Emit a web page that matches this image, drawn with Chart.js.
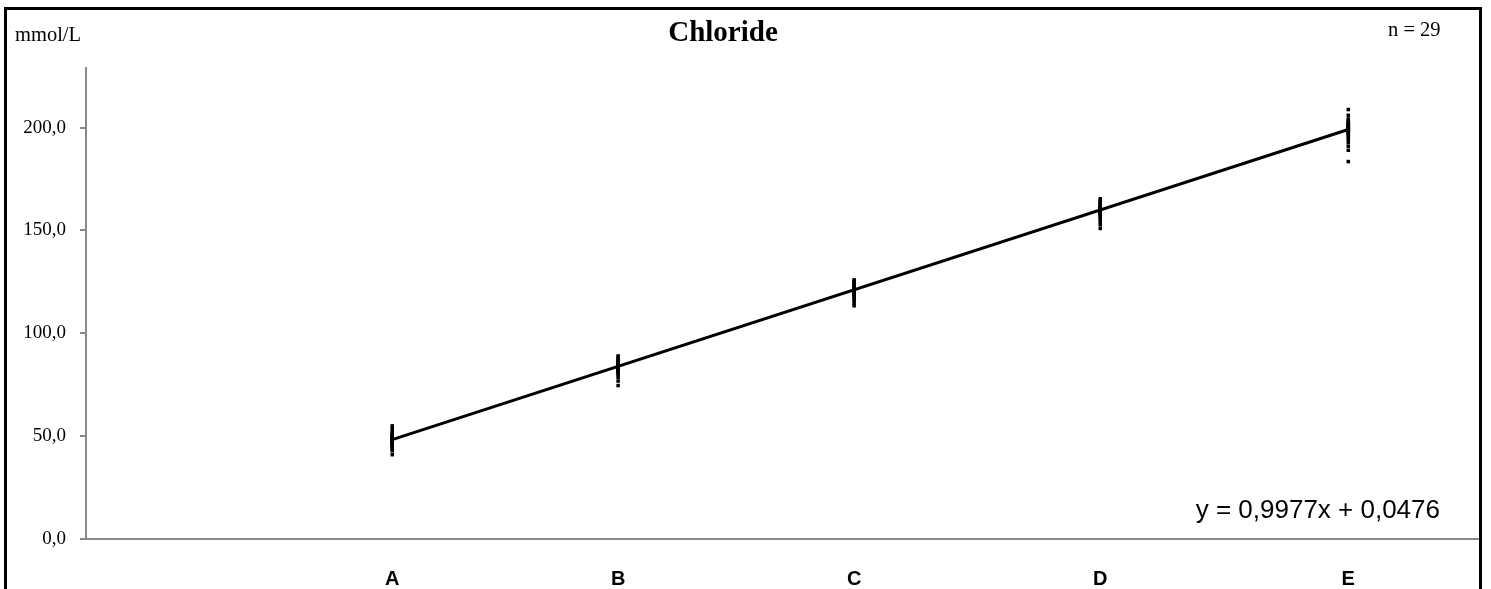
<!DOCTYPE html>
<html>
<head>
<meta charset="utf-8">
<script src="https://cdn.jsdelivr.net/npm/chart.js@4.4.1/dist/chart.umd.min.js"></script>
<style>
  html, body { margin: 0; padding: 0; background: #fff; overflow: hidden; }
  #wrap { position: relative; width: 1491px; height: 589px; }
  #frame { position: absolute; left: 4px; top: 7px; width: 1478px; height: 640px; box-sizing: border-box; border: 3px solid #000; pointer-events: none; }
  .txt { position: absolute; white-space: nowrap; color: #000; }
  #title { left: 0; width: 1446px; top: 15px; text-align: center; font: bold 29px "Liberation Serif", serif; }
  #unit { left: 15px; top: 23px; font: 20.5px "Liberation Serif", serif; }
  #count { left: 1388px; top: 18px; font: 20.5px "Liberation Serif", serif; }
  #eq { right: 51px; top: 494px; font: 26px "Liberation Sans", Arial, sans-serif; }
</style>
</head>
<body>
<div id="wrap">
  <canvas id="chart" width="1491" height="589"></canvas>
  <div id="frame"></div>
  <div class="txt" id="title">Chloride</div>
  <div class="txt" id="unit">mmol/L</div>
  <div class="txt" id="count">n = 29</div>
  <div class="txt" id="eq">y = 0,9977x + 0,0476</div>
</div>
<script>
// niveaux (échantillons) et leur valeur cible sur l'axe X
const levels = ['A', 'B', 'C', 'D', 'E'];
const levelX = [48.4, 84.1, 121.4, 160.3, 199.5];

// 29 résultats par niveau
const valsA = [55.0, 53.8, 52.6, 51.5, 50.8, 50.2, 49.8, 49.4, 49.0, 48.7, 48.4, 48.1, 47.8, 47.5, 47.2, 46.9, 46.6, 46.2, 45.8, 45.3, 44.6, 43.8, 42.9, 41.0, 49.6, 48.9, 48.2, 47.6, 50.4];
const valsB = [89.0, 88.3, 87.6, 87.0, 86.5, 86.0, 85.6, 85.2, 84.8, 84.5, 84.2, 83.9, 83.6, 83.3, 83.0, 82.7, 82.4, 82.0, 81.6, 81.2, 80.7, 79.9, 78.6, 76.8, 74.6, 84.0, 85.0, 83.5, 82.8];
const valsC = [126.0, 125.3, 124.7, 124.1, 123.6, 123.2, 122.8, 122.4, 122.1, 121.8, 121.5, 121.2, 120.9, 120.6, 120.3, 120.0, 119.7, 119.3, 118.9, 118.4, 117.8, 117.0, 115.9, 114.6, 113.4, 121.0, 122.0, 120.5, 121.6];
const valsD = [165.4, 164.6, 163.9, 163.3, 162.8, 162.3, 161.9, 161.5, 161.1, 160.8, 160.5, 160.2, 159.9, 159.6, 159.3, 159.0, 158.6, 158.2, 157.7, 157.1, 156.4, 155.4, 154.2, 152.8, 151.0, 160.0, 161.0, 159.5, 160.6];
const valsE = [208.8, 206.0, 204.2, 203.3, 202.6, 202.0, 201.5, 201.0, 200.6, 200.2, 199.8, 199.4, 199.0, 198.6, 198.2, 197.7, 197.1, 196.4, 195.5, 194.3, 192.8, 191.0, 189.0, 183.5, 200.0, 201.2, 199.6, 202.3, 198.9];

// droite de régression affichée
const slope = 0.9977;
const intercept = 0.0476;

const yTicks = [0, 50, 100, 150, 200];

(function () {
  const allVals = [valsA, valsB, valsC, valsD, valsE];
  const points = [];
  allVals.forEach((vals, i) => vals.forEach((v) => points.push({ x: levelX[i], y: v })));

  const x0 = levelX[0], x1 = levelX[levelX.length - 1];
  const trend = [{ x: x0, y: slope * x0 + intercept }, { x: x1, y: slope * x1 + intercept }];

  const axisGrey = '#898989';

  new Chart(document.getElementById('chart'), {
    type: 'scatter',
    data: {
      datasets: [
        { data: trend, showLine: true, borderColor: '#000', borderWidth: 3, pointRadius: 0, order: 0 },
        { data: points, pointStyle: 'rect', pointRadius: 2.5, backgroundColor: '#000', borderWidth: 0, order: 1 },
      ],
    },
    options: {
      responsive: false, animation: false,
      layout: { padding: { top: 68, right: 13, left: 0, bottom: 0 } },
      plugins: { legend: { display: false }, tooltip: { enabled: false } },
      scales: {
        x: {
          type: 'linear', min: 0, max: 220,
          afterFit: (s) => { s.height = 50; },
          afterBuildTicks: (s) => { s.ticks = levelX.map((v) => ({ value: v })); },
          grid: { display: false, drawTicks: false },
          border: { color: axisGrey, width: 2 },
          ticks: {
            padding: 28, color: '#000', maxRotation: 0, autoSkip: false,
            font: { family: '"Liberation Sans", Arial, sans-serif', size: 20, weight: 'bold' },
            callback: (v, i) => levels[i],
          },
        },
        y: {
          min: 0, max: 229,
          afterFit: (s) => { s.width = 86; },
          afterBuildTicks: (s) => { s.ticks = yTicks.map((v) => ({ value: v })); },
          grid: { drawOnChartArea: false, drawTicks: true, tickLength: 6, color: axisGrey, lineWidth: 2 },
          border: { color: axisGrey, width: 2 },
          ticks: {
            padding: 14, color: '#000',
            font: { family: '"Liberation Serif", "Times New Roman", serif', size: 19 },
            callback: (v) => v.toFixed(1).replace('.', ','),
          },
        },
      },
    },
  });
})();
</script>
</body>
</html>
